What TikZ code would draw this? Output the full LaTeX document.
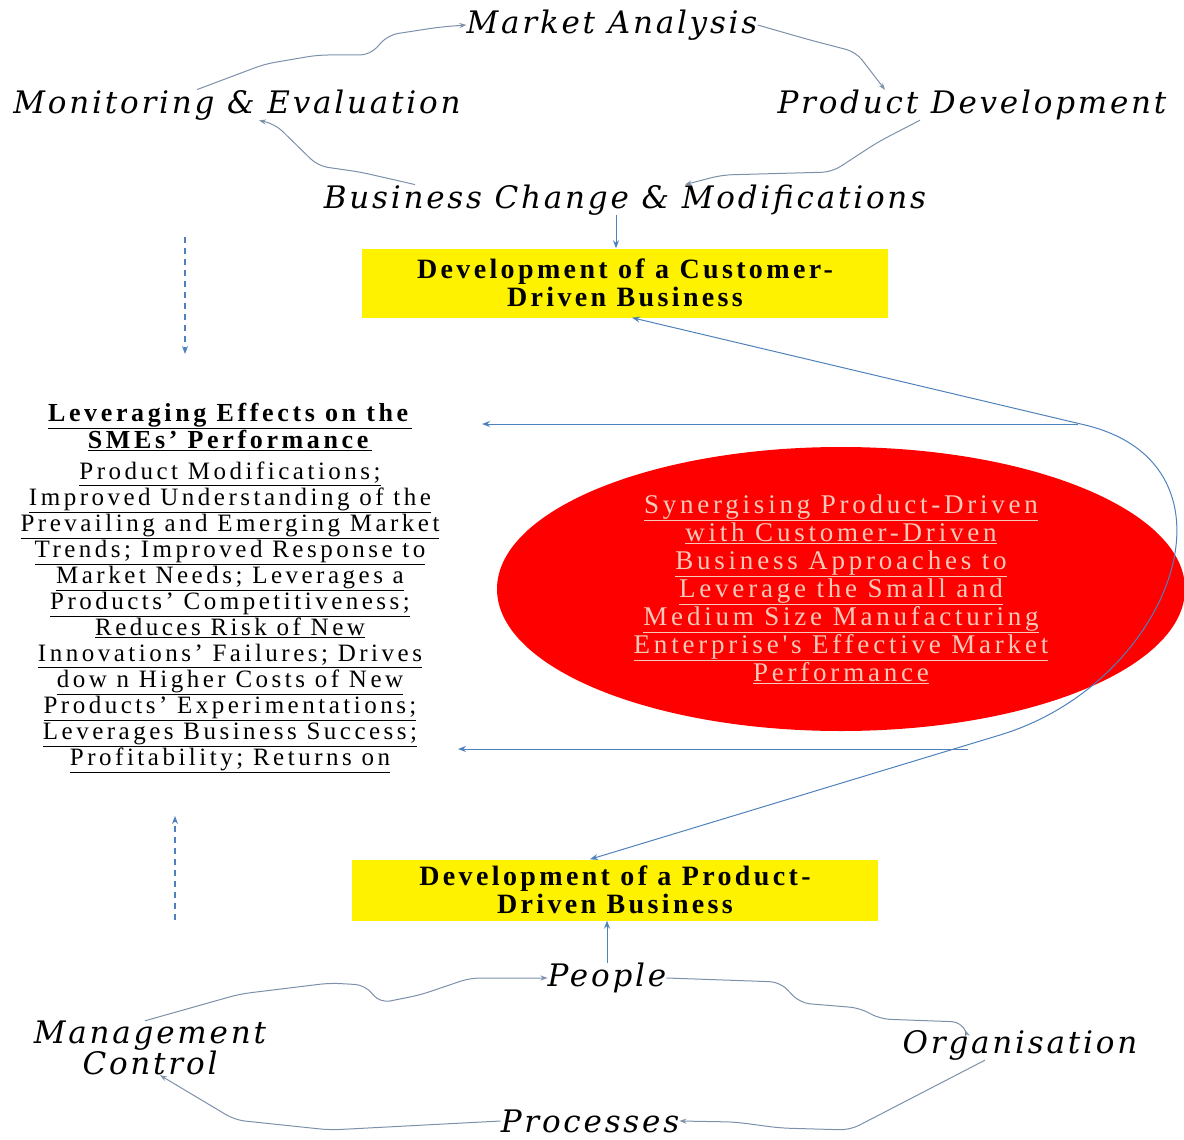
\documentclass[tikz,border=0pt]{standalone}
\usepackage{fontspec}
\setmainfont{Liberation Serif}
\newfontfamily\stagefont[LetterSpace=9]{DejaVu Serif}
\newfontfamily\boxfont[LetterSpace=12]{Liberation Serif}
\newfontfamily\levfont[LetterSpace=14]{Liberation Serif}
\usetikzlibrary{shapes.geometric,arrows.meta}
\definecolor{linkblue}{HTML}{4F81BD}
\definecolor{stagegray}{HTML}{7D90AA}
\definecolor{pinktext}{HTML}{F6C9B9}
\newcommand{\ul}[1]{\underline{#1}}

\begin{document}
\begin{tikzpicture}[x=1pt,y=-1pt,
      stage/.style={font=\stagefont\itshape\fontsize{31}{31}\selectfont, inner sep=0pt, align=center},
      box/.style={fill=yellow, minimum width=526pt, align=center, inner sep=0pt,
        font=\boxfont\bfseries\fontsize{28}{28}\selectfont},
      link/.style={draw=linkblue, line width=1pt, -{Stealth[length=8pt,width=6pt]}},
      dlink/.style={link, line width=1.4pt, dash pattern=on 6pt off 5pt},
      turn/.style={draw=stagegray, line width=1pt, rounded corners=10pt, -{Stealth[length=7pt,width=5pt]}}
      ]
      \useasboundingbox (0,0) rectangle (1184,1140);

      % upper cycle
      \node[stage] (market) at (612,25) {Market Analysis};
      \node[stage] (monit) at (237,105) {Monitoring \& Evaluation};
      \node[stage] (proddev) at (972,105) {Product Development};
      \node[stage] (bizchg) at (625,200) {Business Change \& Modifications};

      \draw[turn] ([xshift=-40pt]monit.north) -- (265,64) -- (318,55) -- (370,55) -- (388,35) -- (440,27) -- (market.west);
      \draw[turn] (market.east) -- (810,40) -- (856,52) -- ([xshift=-87pt]proddev.north);
      \draw[turn] ([xshift=-52pt]proddev.south) -- (878,142) -- (832,172) -- (722,175) -- ([xshift=60pt]bizchg.north);
      \draw[turn] ([xshift=-210pt]bizchg.north) -- (360,172) -- (318,166) -- (275,124) -- ([xshift=22pt]monit.south);

      % boxes
      \node[box, minimum height=69pt] (cust) at (625,283) {Development of a Customer-\\Driven Business};
      \node[box, minimum height=61pt] (prod) at (615,890) {Development of a Product-\\Driven Business};
      \draw[link] ([xshift=-9pt]bizchg.south) -- ([xshift=-9pt]cust.north);

      % effects
      \node[align=center, inner sep=0pt, font=\levfont\fontsize{25}{26}\selectfont] (lever) at (230,588) {
        \ul{\fontsize{26}{28}\selectfont\textbf{Leveraging Effects on the}}\\
        \ul{\fontsize{26}{28}\selectfont\textbf{SMEs’ Performance}}\\[5pt]
        \ul{Product Modifications;}\\
        \ul{Improved Understanding of the}\\
        \ul{Prevailing and Emerging Market}\\
        \ul{Trends; Improved Response to}\\
        \ul{Market Needs; Leverages a}\\
        \ul{Products’ Competitiveness;}\\
        \ul{Reduces Risk of New}\\
        \ul{Innovations’ Failures; Drives}\\
        \ul{dow n Higher Costs of New}\\
        \ul{Products’ Experimentations;}\\
        \ul{Leverages Business Success;}\\
        \ul{Profitability; Returns on}
      };

      % synergy
      \node[ellipse, fill=red, minimum width=688pt, minimum height=284pt, inner sep=0pt, align=center,
        text=pinktext, font=\levfont\fontsize{27}{28}\selectfont] (synergy) at (841,589) {
        \ul{Synergising Product-Driven}\\
        \ul{with Customer-Driven}\\
        \ul{Business Approaches to}\\
        \ul{Leverage the Small and}\\
        \ul{Medium Size Manufacturing}\\
        \ul{Enterprise's Effective Market}\\
        \ul{Performance}
      };

      \coordinate (topfrom) at (1078,424);
      \coordinate (topto) at (482,424);
      \coordinate (lowfrom) at (968,749);
      \coordinate (lowto) at (458,749);
      \draw[link] (topfrom) -- (topto);
      \draw[link] (lowfrom) -- (lowto);
      \draw[link, {Stealth[length=8pt,width=6pt]}-{Stealth[length=8pt,width=6pt]}]
        ([xshift=7pt]cust.south) -- (1085,425) .. controls (1252,465) and (1172,683) .. (1000,735) -- ([xshift=-25pt]prod.north);

      % dashed arrows
      \coordinate (dtop) at (185,237);
      \coordinate (dtopend) at (185,354);
      \coordinate (dlow) at (175,920);
      \coordinate (dlowend) at (175,816);
      \draw[dlink] (dtop) -- (dtopend);
      \draw[dlink] (dlow) -- (dlowend);

      % lower cycle
      \node[stage] (people) at (607,978) {People};
      \node[stage] (organ) at (1020,1045) {Organisation};
      \node[stage] (proc) at (590,1121) {Processes};
      \node[stage] (mgmt) at (150,1048) {Management\\Control};
      \draw[link] (people.north) -- (people.north |- prod.south);

      \draw[turn] ([xshift=-5pt]mgmt.north) -- (240,994) -- (330,983) -- (365,985) -- (380,1003) -- (420,995) -- (470,978) -- (people.west);
      \draw[turn] (people.east) -- (780,982) -- (800,1003) -- (860,1008) -- (880,1019) -- (962,1022) -- ([xshift=-55pt]organ.north);
      \draw[turn] ([xshift=-35pt]organ.south) -- (850,1130) -- (780,1128) -- (735,1122) -- (proc.east);
      \draw[turn] (proc.west) -- (330,1130) -- (235,1120) -- ([xshift=10pt]mgmt.south);
    \end{tikzpicture}
\end{document}
